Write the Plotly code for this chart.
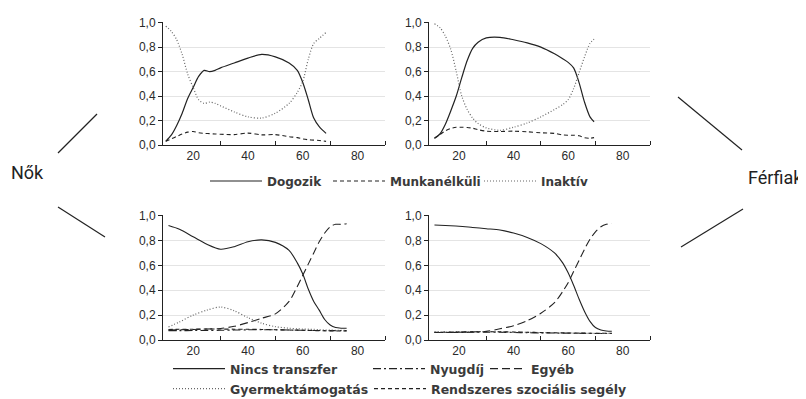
import plotly.graph_objects as go

# The page body has an 8px margin, so the figure is drawn 8px in from the
# window's top-left corner; size it to fill the rest of the 806x399 window.
WIN_W, WIN_H = 806, 399
OFF = 8
W, H = WIN_W - OFF, WIN_H - OFF

# ---------------- data ----------------
# Top panels: labour-market status by age
age_w_status = [10, 12, 14, 16, 18, 20, 22, 24, 26, 28, 30, 35, 40, 45, 50, 55, 58, 60, 62, 64, 66, 68.5]
w_dolgozik = [0.03, 0.08, 0.16, 0.26, 0.38, 0.47, 0.56, 0.61, 0.60, 0.61, 0.63, 0.67, 0.71, 0.74, 0.72, 0.67, 0.61, 0.51, 0.37, 0.22, 0.15, 0.095]
w_munkanelkuli = [0.03, 0.05, 0.07, 0.09, 0.105, 0.11, 0.10, 0.095, 0.093, 0.09, 0.088, 0.085, 0.097, 0.083, 0.085, 0.068, 0.06, 0.05, 0.043, 0.04, 0.037, 0.03]
w_inaktiv = [0.97, 0.93, 0.86, 0.74, 0.58, 0.47, 0.37, 0.34, 0.35, 0.34, 0.32, 0.27, 0.23, 0.22, 0.26, 0.34, 0.43, 0.52, 0.70, 0.83, 0.87, 0.92]

age_m_status = [11, 13, 15, 17, 19, 21, 23, 25, 27, 30, 35, 40, 45, 50, 55, 58, 60, 62, 64, 66, 68, 69.5]
m_dolgozik = [0.055, 0.09, 0.17, 0.28, 0.40, 0.55, 0.69, 0.79, 0.84, 0.875, 0.88, 0.86, 0.835, 0.80, 0.745, 0.705, 0.675, 0.63, 0.51, 0.35, 0.23, 0.19]
m_munkanelkuli = [0.055, 0.085, 0.115, 0.135, 0.145, 0.145, 0.143, 0.137, 0.125, 0.113, 0.11, 0.113, 0.108, 0.10, 0.095, 0.082, 0.08, 0.08, 0.075, 0.06, 0.055, 0.06]
m_inaktiv = [0.99, 0.96, 0.89, 0.78, 0.60, 0.40, 0.29, 0.22, 0.175, 0.14, 0.12, 0.145, 0.18, 0.23, 0.29, 0.33, 0.37, 0.46, 0.59, 0.72, 0.83, 0.865]

# Bottom panels: transfers by age
age_transfer = [11, 15, 20, 25, 30, 35, 40, 45, 50, 55, 58, 60, 62, 64, 66, 68, 70, 72, 74, 76]
w_nincs = [0.92, 0.89, 0.83, 0.77, 0.73, 0.75, 0.79, 0.805, 0.785, 0.72, 0.62, 0.53, 0.41, 0.31, 0.24, 0.165, 0.12, 0.10, 0.095, 0.095]
w_nyugdij = [0.075, 0.075, 0.076, 0.077, 0.078, 0.08, 0.082, 0.083, 0.082, 0.08, 0.079, 0.078, 0.077, 0.076, 0.076, 0.075, 0.075, 0.075, 0.075, 0.075]
w_egyeb = [0.08, 0.082, 0.085, 0.088, 0.093, 0.11, 0.14, 0.175, 0.21, 0.31, 0.43, 0.52, 0.61, 0.70, 0.79, 0.86, 0.91, 0.93, 0.93, 0.935]
w_gyermek = [0.105, 0.145, 0.20, 0.24, 0.265, 0.235, 0.18, 0.135, 0.107, 0.095, 0.09, 0.088, 0.087, 0.085, 0.083, 0.08, 0.08, 0.078, 0.077, 0.077]
w_rendszeres = [0.085, 0.086, 0.087, 0.088, 0.088, 0.087, 0.086, 0.085, 0.083, 0.08, 0.079, 0.078, 0.077, 0.076, 0.075, 0.074, 0.073, 0.072, 0.072, 0.072]

m_nincs = [0.925, 0.92, 0.915, 0.905, 0.895, 0.885, 0.86, 0.825, 0.775, 0.70, 0.62, 0.54, 0.44, 0.33, 0.23, 0.15, 0.10, 0.08, 0.072, 0.07]
m_nyugdij = [0.06, 0.06, 0.061, 0.062, 0.063, 0.062, 0.06, 0.058, 0.057, 0.056, 0.055, 0.055, 0.054, 0.054, 0.053, 0.053, 0.052, 0.052, 0.052, 0.052]
m_egyeb = [0.06, 0.06, 0.062, 0.065, 0.07, 0.09, 0.115, 0.155, 0.215, 0.30, 0.39, 0.46, 0.55, 0.64, 0.73, 0.81, 0.87, 0.91, 0.93, 0.935]
m_gyermek = [0.065, 0.066, 0.067, 0.068, 0.068, 0.066, 0.064, 0.062, 0.06, 0.058, 0.057, 0.056, 0.055, 0.055, 0.054, 0.054, 0.053, 0.053, 0.053, 0.053]
m_rendszeres = [0.062, 0.063, 0.064, 0.066, 0.067, 0.066, 0.064, 0.062, 0.06, 0.058, 0.057, 0.056, 0.056, 0.055, 0.055, 0.054, 0.054, 0.054, 0.054, 0.054]

y_tickvals = [0, 0.2, 0.4, 0.6, 0.8, 1.0]
y_ticktext = ["0,0", "0,2", "0,4", "0,6", "0,8", "1,0"]
x_tickvals = [20, 40, 60, 80]
x_minorvals = [30, 50, 70, 90]

# ---------------- helpers (window pixel -> figure fraction) ----------------
def px(x):
    return (x - OFF) / W

def py(y):
    return 1 - (y - OFF) / H

INK = "#222222"
STYLE = {
    "Dogozik": dict(color=INK, width=1.2, dash="solid"),
    "Munkanélküli": dict(color=INK, width=1.1, dash="4px,3px"),
    "Inaktív": dict(color="#666666", width=1.2, dash="1px,2px"),
    "Nincs transzfer": dict(color=INK, width=1.1, dash="solid"),
    "Nyugdíj": dict(color=INK, width=1.1, dash="8px,3px,2px,3px"),
    "Egyéb": dict(color=INK, width=1.1, dash="8px,4px"),
    "Gyermektámogatás": dict(color="#666666", width=1.2, dash="1px,2px"),
    "Rendszeres szociális segély": dict(color=INK, width=1.1, dash="4px,3px"),
}
LEGEND_OF = {
    "Dogozik": "legend", "Munkanélküli": "legend2", "Inaktív": "legend3",
    "Nincs transzfer": "legend4", "Nyugdíj": "legend5", "Egyéb": "legend6",
    "Gyermektámogatás": "legend7", "Rendszeres szociális segély": "legend8",
}

fig = go.Figure()

def add(name, x, y, xa, ya, show):
    fig.add_trace(go.Scatter(
        x=x, y=y, mode="lines", name=name, xaxis=xa, yaxis=ya,
        line=dict(shape="spline", smoothing=0.8, **STYLE[name]),
        showlegend=show, legend=LEGEND_OF[name], hoverinfo="skip",
    ))

# top-left: women status
add("Dogozik", age_w_status, w_dolgozik, "x", "y", True)
add("Munkanélküli", age_w_status, w_munkanelkuli, "x", "y", True)
add("Inaktív", age_w_status, w_inaktiv, "x", "y", True)
# top-right: men status
add("Dogozik", age_m_status, m_dolgozik, "x2", "y2", False)
add("Munkanélküli", age_m_status, m_munkanelkuli, "x2", "y2", False)
add("Inaktív", age_m_status, m_inaktiv, "x2", "y2", False)
# bottom-left: women transfers
add("Nincs transzfer", age_transfer, w_nincs, "x3", "y3", True)
add("Nyugdíj", age_transfer, w_nyugdij, "x3", "y3", True)
add("Egyéb", age_transfer, w_egyeb, "x3", "y3", True)
add("Gyermektámogatás", age_transfer, w_gyermek, "x3", "y3", True)
add("Rendszeres szociális segély", age_transfer, w_rendszeres, "x3", "y3", True)
# bottom-right: men transfers
add("Nincs transzfer", age_transfer, m_nincs, "x4", "y4", False)
add("Nyugdíj", age_transfer, m_nyugdij, "x4", "y4", False)
add("Egyéb", age_transfer, m_egyeb, "x4", "y4", False)
add("Gyermektámogatás", age_transfer, m_gyermek, "x4", "y4", False)
add("Rendszeres szociális segély", age_transfer, m_rendszeres, "x4", "y4", False)

TICKFONT = dict(family="Liberation Sans, Arial, sans-serif", size=12, color="#2a2a2a")

def xaxis(domain, anchor):
    return dict(
        domain=domain, anchor=anchor, range=[9, 90], automargin=False,
        tickvals=x_tickvals, ticks="", showgrid=False, zeroline=False,
        showline=True, linecolor=INK, linewidth=1, tickfont=TICKFONT,
        minor=dict(tickvals=x_minorvals, ticks="inside", ticklen=4, tickcolor=INK, showgrid=False),
        fixedrange=True,
    )

def yaxis(domain, anchor):
    return dict(
        domain=domain, anchor=anchor, range=[0, 1.005], automargin=False,
        tickvals=y_tickvals, ticktext=y_ticktext, ticks="outside", ticklen=4,
        tickcolor=INK, showgrid=True, gridcolor="#e4e4e4", gridwidth=1,
        zeroline=False, showline=True, linecolor=INK, linewidth=1,
        tickfont=TICKFONT, fixedrange=True,
    )

XL = [px(163), px(385)]
XR = [px(429), px(650)]
YT = [py(145), py(22)]
YB = [py(340), py(215)]

def legend_box(text_left, cy, size, iw=52):
    # legend text starts about (itemwidth + 9) px right of the legend's left edge
    return dict(
        x=px(text_left - (iw + 9)), y=py(cy), xanchor="left", yanchor="middle",
        xref="container", yref="container",
        orientation="h", itemwidth=iw, bgcolor="rgba(0,0,0,0)", borderwidth=0,
        font=dict(family="DejaVu Sans, sans-serif", size=size, color="#3a3a3a", weight="bold"),
        itemclick=False, itemdoubleclick=False,
    )

fig.update_layout(
    width=W, height=H, margin=dict(l=0, r=0, t=0, b=0, autoexpand=False),
    paper_bgcolor="white", plot_bgcolor="white",
    xaxis=xaxis(XL, "y"), yaxis=yaxis(YT, "x"),
    xaxis2=xaxis(XR, "y2"), yaxis2=yaxis(YT, "x2"),
    xaxis3=xaxis(XL, "y3"), yaxis3=yaxis(YB, "x3"),
    xaxis4=xaxis(XR, "y4"), yaxis4=yaxis(YB, "x4"),
    legend=legend_box(266, 181, 12),
    legend2=legend_box(389, 181, 12),
    legend3=legend_box(540, 181, 12),
    legend4=legend_box(229, 369, 12.5),
    legend5=legend_box(429, 369, 12.5),
    legend6=legend_box(530, 369, 12.5, iw=36),
    legend7=legend_box(229, 389, 12.5),
    legend8=legend_box(430, 389, 12.5),
)

# side group labels with bracket lines
SIDE_FONT = dict(family="Roboto, sans-serif", size=18, color="#222222")
fig.add_annotation(x=px(27), y=py(172), xref="paper", yref="paper", text="Nők",
                   showarrow=False, font=SIDE_FONT, xanchor="center", yanchor="middle")
fig.add_annotation(x=px(775), y=py(178), xref="paper", yref="paper", text="Férfiak",
                   showarrow=False, font=SIDE_FONT, xanchor="center", yanchor="middle")

for (x0, y0, x1, y1) in [(58, 153, 97, 114), (58, 207, 105, 237),
                         (678, 97, 742, 150), (743, 209, 681, 247)]:
    fig.add_shape(type="line", xref="paper", yref="paper",
                  x0=px(x0), y0=py(y0), x1=px(x1), y1=py(y1),
                  line=dict(color=INK, width=1.2))

fig.write_html("out.html")
